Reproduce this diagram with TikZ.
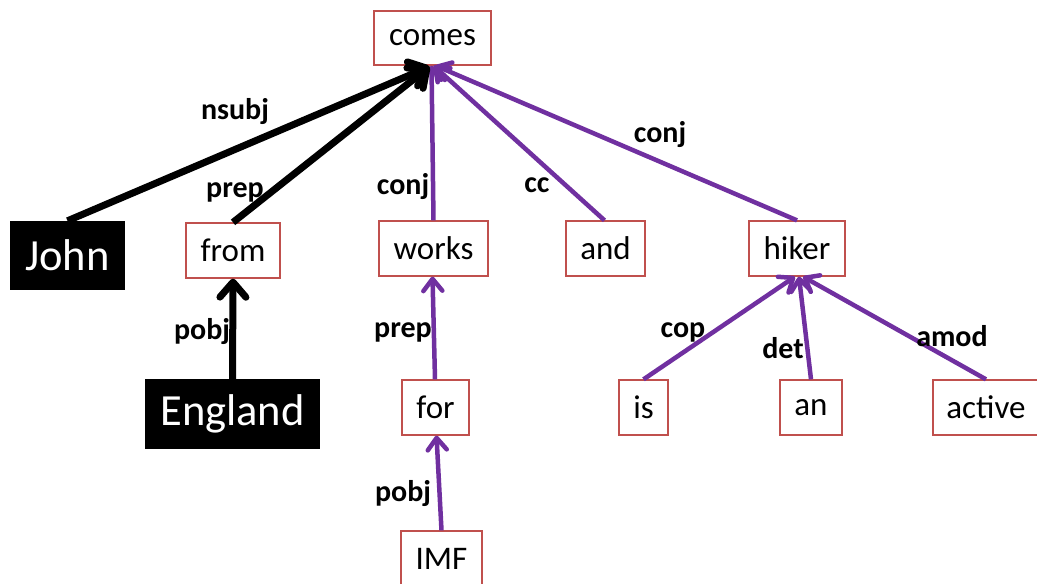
\documentclass[tikz,border=0pt]{standalone}
\usepackage{fontspec}
\setmainfont{Carlito}
\usetikzlibrary{arrows.meta}
\definecolor{boxred}{HTML}{C0504D}
\definecolor{purp}{HTML}{7030A0}
\tikzset{
  wbox/.style={draw=boxred, line width=1.3pt, fill=white, inner sep=0pt, minimum height=55pt, font=\fontsize{33}{36}\selectfont},
  bbox/.style={fill=black, text=white, inner sep=0pt, font=\fontsize{44.5}{46}\selectfont},
  lbl/.style={inner sep=0pt, font=\bfseries\fontsize{30}{32}\selectfont},
  blk/.style={draw=black, line width=7pt, -{Straight Barb[length=15pt, width=26pt, round]}},
  pur/.style={draw=purp, line width=4.5pt, -{Straight Barb[length=12pt, width=19pt, round]}},
}
\begin{document}
\begin{tikzpicture}[x=1pt, y=-1pt]
\useasboundingbox (0,0) rectangle (1037,584);
% nodes
\node[wbox, minimum width=117pt, minimum height=54pt] (comes) at (432.5,38) {comes};
\node[bbox, minimum width=115pt, minimum height=69pt] (john) at (67.5,255.5) {John};
\node[wbox, minimum width=94pt] (from) at (233,250.5) {from};
\node[wbox, minimum width=109pt] (works) at (433.5,248.5) {works};
\node[wbox, minimum width=79pt] (and) at (605.5,248.5) {and};
\node[wbox, minimum width=96pt] (hiker) at (797,248.5) {hiker};
\node[bbox, minimum width=175pt, minimum height=70pt] (england) at (232.5,414) {England};
\node[wbox, minimum width=67pt] (for) at (435.5,407.5) {for};
\node[wbox, minimum width=81pt] (imf) at (441.5,558.5) {IMF};
\node[wbox, minimum width=49pt] (is) at (643.5,407.5) {is};
\node[wbox, minimum width=62pt] (an) at (811,407.5) {an};
\node[wbox, minimum width=106pt] (active) at (986,407.5) {active};
% connectors
\draw[pur] (works.north) -- ([xshift=-1pt]comes.south);
\draw[pur] ([xshift=-1pt]and.north) -- ([xshift=1pt]comes.south);
\draw[pur] (hiker.north) -- ([xshift=3pt]comes.south);
\draw[blk] (john.north) -- ([xshift=-3pt,yshift=-1pt]comes.south);
\draw[blk] (from.north) -- ([xshift=-3pt,yshift=-1pt]comes.south);
\draw[blk] (england.north) -- (from.south);
\draw[pur] ([xshift=-0.5pt]for.north) -- ([xshift=-1pt]works.south);
\draw[pur] (imf.north) -- ([xshift=1pt]for.south);
\draw[pur] (is.north) -- ([xshift=-2pt]hiker.south);
\draw[pur] (an.north) -- ([xshift=2pt]hiker.south);
\draw[pur] (active.north) -- ([xshift=6pt]hiker.south);
% labels
\node[lbl] (lnsubj) at (235,112) {nsubj};
\node[lbl] (lprep1) at (235,192) {prep};
\node[lbl] (lconj1) at (403,187) {conj};
\node[lbl] (lcc) at (537,185) {cc};
\node[lbl] (lconj2) at (660,135) {conj};
\node[lbl] (lpobj1) at (202,332) {pobj};
\node[lbl] (lprep2) at (403,332) {prep};
\node[lbl] (lpobj2) at (403,494) {pobj};
\node[lbl] (lcop) at (683,332) {cop};
\node[lbl] (ldet) at (783,348) {det};
\node[lbl] (lamod) at (952,336) {amod};
\end{tikzpicture}
\end{document}
